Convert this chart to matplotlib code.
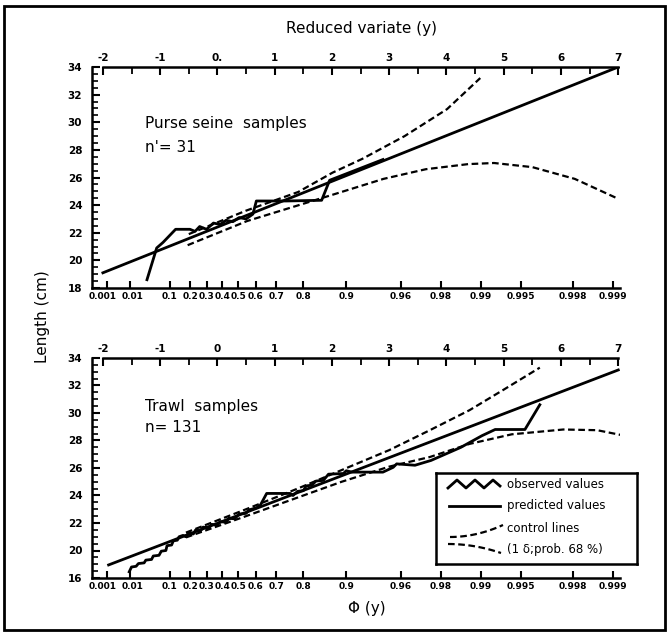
import numpy as np
import matplotlib
matplotlib.use('Agg')
import matplotlib.pyplot as plt
import matplotlib.transforms as mtransforms
from matplotlib.patches import Rectangle

# axis ticks
reduced_ticks = [-2, -1, 0, 1, 2, 3, 4, 5, 6, 7]
prob_ticks = [0.001, 0.01, 0.1, 0.2, 0.3, 0.4, 0.5, 0.6, 0.7, 0.8, 0.9,
              0.96, 0.98, 0.99, 0.995, 0.998, 0.999]
prob_labels = ['0.001', '0.01', '0.1', '0.2', '0.3', '0.4', '0.5', '0.6', '0.7',
               '0.8', '0.9', '0.96', '0.98', '0.99', '0.995', '0.998', '0.999']
length_ticks = [18, 20, 22, 24, 26, 28, 30, 32, 34]

# purse seine samples (n = 31)
ps_obs_y = [-1.23, -1.06, -0.95, -0.73, -0.48, -0.39, -0.31, -0.19, -0.07, 0.05,
            0.15, 0.27, 0.38, 0.50, 0.62, 0.68, 1.20, 1.82, 1.96, 2.89]
ps_obs_len = [18.6, 20.9, 21.3, 22.25, 22.25, 22.1, 22.45, 22.25, 22.7, 22.6,
              22.9, 22.8, 23.1, 23.0, 23.35, 24.3, 24.3, 24.35, 25.8, 27.3]
ps_pred_y = [-2.0, 7.0]
ps_pred_len = [19.1, 34.0]
ps_upper_y = [-0.5, 0.5, 1.41, 2.01, 2.53, 3.27, 4.01, 4.59]
ps_upper_len = [21.9, 23.6, 24.95, 26.35, 27.35, 29.0, 30.95, 33.2]
ps_lower_y = [-0.52, 0.52, 2.01, 2.9, 3.64, 4.38, 4.83, 5.5, 6.24, 6.95]
ps_lower_len = [21.1, 22.85, 24.75, 25.9, 26.6, 26.97, 27.05, 26.75, 25.9, 24.55]

# trawl samples (n = 131)
tr_obs_y = [-1.54, -1.50, -1.42, -1.38, -1.28, -1.25, -1.15, -1.12, -1.02, -0.98,
            -0.90, -0.88, -0.80, -0.77, -0.70, -0.67, -0.60, -0.55, -0.50, -0.42,
            -0.38, -0.30, -0.25, -0.15, -0.10, 0.00, 0.05, 0.15, 0.20, 0.30,
            0.38, 0.50, 0.55, 0.68, 0.75, 0.86, 1.27, 1.32, 1.40, 1.50,
            1.55, 1.65, 1.72, 1.85, 1.94, 2.20, 2.25, 2.35, 2.89, 3.07,
            3.13, 3.45, 3.73, 4.25, 4.62, 4.85, 5.37, 5.63]
tr_obs_len = [18.45, 18.8, 18.85, 19.05, 19.1, 19.3, 19.35, 19.6, 19.65, 19.95,
              20.0, 20.35, 20.4, 20.7, 20.75, 21.0, 21.1, 21.0, 21.3, 21.2,
              21.5, 21.4, 21.7, 21.65, 21.9, 21.85, 22.1, 22.05, 22.35, 22.3,
              22.65, 22.7, 22.95, 23.1, 23.3, 24.15, 24.15, 24.0, 24.3, 24.35,
              24.7, 24.75, 25.05, 25.1, 25.55, 25.6, 25.8, 25.7, 25.7, 26.05,
              26.3, 26.2, 26.55, 27.5, 28.35, 28.8, 28.8, 30.6]
tr_pred_y = [-1.9, 7.0]
tr_pred_len = [18.95, 33.13]
tr_upper_y = [-0.55, 0.5, 1.4, 2.17, 3.0, 3.71, 4.4, 5.0, 5.63]
tr_upper_len = [21.3, 23.0, 24.5, 25.85, 27.3, 28.75, 30.2, 31.7, 33.3]
tr_lower_y = [-0.55, 0.5, 1.4, 2.17, 3.0, 3.71, 4.4, 5.14, 6.04, 6.63, 7.05]
tr_lower_len = [20.95, 22.5, 23.85, 25.0, 26.1, 26.8, 27.75, 28.45, 28.8, 28.75, 28.4]

W, H = 668, 633


def px_box(x0, y0, x1, y1):
    return [x0 / W, 1 - y1 / H, (x1 - x0) / W, (y1 - y0) / H]


def gumbel(p):
    return -np.log(-np.log(np.asarray(p)))


def draw_panel(fig, ax, obs, pred, upper, lower, zero_label, length_labels):
    ax.plot(*obs, color='black', lw=2.0)
    ax.plot(*pred, color='black', lw=2.0)
    ax.plot(*upper, color='black', lw=1.6, linestyle=(0, (3, 1.6)))
    ax.plot(*lower, color='black', lw=1.6, linestyle=(0, (3, 1.6)))
    ax.set_xlim(-2.19, 7.03)
    ax.set_ylim(18, 34)
    ax.spines['right'].set_visible(False)
    ax.spines['top'].set_visible(False)
    ax.spines['left'].set_linewidth(1.8)
    ax.spines['bottom'].set_linewidth(1.8)

    ax.set_xticks(gumbel(prob_ticks))
    ax.set_xticklabels(prob_labels, fontsize=6.5, fontweight='bold')
    ax.tick_params(axis='x', direction='in', length=5, width=1.5, pad=3)
    # the two leftmost labels sit close together, push them apart a little
    labels = ax.get_xticklabels()
    for lab, dx in [(labels[0], -4), (labels[1], 3)]:
        lab.set_transform(lab.get_transform() +
                          mtransforms.ScaledTranslation(dx / 100, 0, fig.dpi_scale_trans))

    ax.set_yticks(length_ticks)
    ax.set_yticklabels(length_labels, fontsize=7.5, fontweight='bold')
    ax.set_yticks(np.arange(18, 34.01, 0.5), minor=True)
    ax.tick_params(axis='y', which='major', direction='in', length=6, width=1.5, pad=7)
    ax.tick_params(axis='y', which='minor', direction='in', length=4, width=1.2)

    sec = ax.secondary_xaxis('top')
    sec.set_xticks(reduced_ticks)
    sec.set_xticklabels([zero_label if t == 0 else str(t) for t in reduced_ticks],
                        fontsize=7.5, fontweight='bold')
    sec.set_xticks(np.arange(-2, 7.01, 0.5), minor=True)
    sec.tick_params(which='major', direction='in', length=6, width=1.5, pad=3)
    sec.tick_params(which='minor', direction='in', length=5, width=1.3)
    sec.spines['top'].set_linewidth(1.8)
    sec.spines['top'].set_bounds(-2, 7)


fig = plt.figure(figsize=(6.68, 6.33), dpi=100)

ax1 = fig.add_axes(px_box(92, 67, 620, 288))
draw_panel(fig, ax1, (ps_obs_y, ps_obs_len), (ps_pred_y, ps_pred_len),
           (ps_upper_y, ps_upper_len), (ps_lower_y, ps_lower_len),
           '0.', [str(t) for t in length_ticks])
ax1.text(145 / W, 1 - 124 / H, 'Purse seine  samples', transform=fig.transFigure,
         fontsize=11, va='center')
ax1.text(145 / W, 1 - 147 / H, "n'= 31", transform=fig.transFigure,
         fontsize=11, va='center')

ax2 = fig.add_axes(px_box(92, 358, 620, 578))
draw_panel(fig, ax2, (tr_obs_y, tr_obs_len), (tr_pred_y, tr_pred_len),
           (tr_upper_y, tr_upper_len), (tr_lower_y, tr_lower_len),
           '0', ['16'] + [str(t) for t in length_ticks[1:]])
ax2.text(145 / W, 1 - 407 / H, 'Trawl  samples', transform=fig.transFigure,
         fontsize=11, va='center')
ax2.text(145 / W, 1 - 428 / H, 'n= 131', transform=fig.transFigure,
         fontsize=11, va='center')

fig.text(362 / W, 1 - 28 / H, 'Reduced variate (y)', fontsize=11, ha='center', va='center')
fig.text(367 / W, 1 - 608 / H, 'Φ (y)', fontsize=11, ha='center', va='center')
fig.text(42 / W, 1 - 317 / H, 'Length (cm)', fontsize=11, rotation=90,
         ha='center', va='center')

# legend box, drawn in its own pixel frame
leg = fig.add_axes(px_box(436, 473, 637, 564))
leg.set_xlim(0, 201)
leg.set_ylim(91, 0)
leg.set_xticks([])
leg.set_yticks([])
for s in leg.spines.values():
    s.set_linewidth(1.8)
leg.plot([12, 21, 30, 39, 48, 57, 64], [15, 7, 15, 7, 15, 7, 13], color='black', lw=2)
leg.plot([13, 64], [33, 33], color='black', lw=2)
cx = np.linspace(14, 67, 20)
leg.plot(cx, 64 - 12 * ((cx - 14) / 53) ** 2, color='black', lw=1.6, linestyle=(0, (3, 1.6)))
leg.plot(cx - 2, 71 + 9 * ((cx - 14) / 53) ** 2, color='black', lw=1.6, linestyle=(0, (3, 1.6)))
for ty, txt in [(11, 'observed values'), (33, 'predicted values'),
                (56, 'control lines'), (76, '(1 δ;prob. 68 %)')]:
    leg.text(71, ty, txt, fontsize=8.5, va='center')

fig.add_artist(Rectangle((4 / W, 1 - 630 / H), 661 / W, 624 / H, transform=fig.transFigure,
                         fill=False, edgecolor='black', linewidth=2))

fig.savefig('out.png', dpi=100)
